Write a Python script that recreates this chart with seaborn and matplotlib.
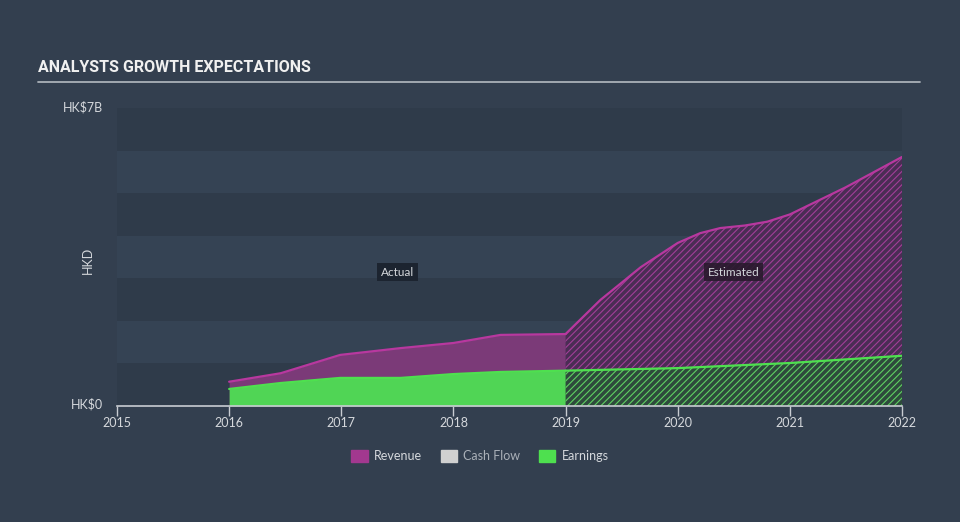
import matplotlib
matplotlib.use("Agg")
import matplotlib.pyplot as plt
import matplotlib.patches as mpatches
import seaborn as sns
import pandas as pd

# ---- data (HK$ billions) ----
rev_years_actual = [2016.0, 2016.46, 2016.99, 2017.53, 2018.0, 2018.42, 2019.0]
rev_actual = [0.57, 0.77, 1.20, 1.36, 1.48, 1.67, 1.69]
earn_years_actual = [2016.0, 2016.46, 2016.99, 2017.53, 2018.0, 2018.42, 2019.0]
earn_actual = [0.40, 0.54, 0.66, 0.66, 0.75, 0.80, 0.83]

rev_years_est = [2019.0, 2019.31, 2019.67, 2020.0, 2020.2, 2020.38, 2020.6, 2020.8, 2021.0, 2021.5, 2022.0]
rev_est = [1.69, 2.49, 3.26, 3.83, 4.06, 4.18, 4.24, 4.33, 4.50, 5.14, 5.85]
earn_years_est = [2019.0, 2020.0, 2021.0, 2022.0]
earn_est = [0.83, 0.89, 1.01, 1.18]

x_ticks = [2015, 2016, 2017, 2018, 2019, 2020, 2021, 2022]
y_tick_labels = ["HK$0", "HK$7B"]
legend_labels = ["Revenue", "Cash Flow", "Earnings"]

# ---- style ----
BG = "#333f4f"
BAND_DARK = "#2f3b4a"
BAND_LIGHT = "#354354"
REV_LINE = "#b8389f"
REV_FILL = "#7b3a78"
EARN_LINE = "#4ee04f"
EARN_FILL = "#50d555"
TXT = "#d5d8dc"

sns.set_theme(style="dark")
plt.rcParams["font.family"] = ["Lato", "DejaVu Sans"]
plt.rcParams["hatch.linewidth"] = 0.8

fig = plt.figure(figsize=(9.6, 5.22), dpi=100, facecolor=BG)
ax = fig.add_axes([117 / 960, 1 - 406 / 522, (902 - 117) / 960, (406 - 108) / 522])
ax.set_facecolor(BG)
ax.set_xlim(2015, 2022)
ax.set_ylim(0, 7)

# bands
for i in range(7):
    ax.axhspan(i, i + 1, color=BAND_DARK if i % 2 == 0 else BAND_LIGHT, lw=0, zorder=0)

df_ra = pd.DataFrame({"year": rev_years_actual, "v": rev_actual})
df_ea = pd.DataFrame({"year": earn_years_actual, "v": earn_actual})
df_re = pd.DataFrame({"year": rev_years_est, "v": rev_est})
df_ee = pd.DataFrame({"year": earn_years_est, "v": earn_est})

# actual fills
ax.fill_between(df_ra["year"], 0, df_ra["v"], color=REV_FILL, lw=0, zorder=2)
ax.fill_between(df_ea["year"], 0, df_ea["v"], color=EARN_FILL, lw=0, zorder=3)
# estimated hatched fills
ax.fill_between(df_re["year"], 0, df_re["v"], facecolor="#4a2d54", edgecolor="#a23e98",
                hatch="/////", lw=0, zorder=2)
ax.fill_between(df_ee["year"], 0, df_ee["v"], facecolor="#2e4a3c", edgecolor="#5fd062",
                hatch="/////", lw=0, zorder=3)

sns.lineplot(data=df_ra, x="year", y="v", color=REV_LINE, lw=1.6, ax=ax, zorder=4)
sns.lineplot(data=df_re, x="year", y="v", color=REV_LINE, lw=1.6, ax=ax, zorder=4)
sns.lineplot(data=df_ea, x="year", y="v", color=EARN_LINE, lw=1.6, ax=ax, zorder=5)
sns.lineplot(data=df_ee, x="year", y="v", color=EARN_LINE, lw=1.6, ax=ax, zorder=5)

ax.set_xlim(2015, 2022)
ax.set_ylim(0, 7)
ax.grid(False)
for s in ["top", "right", "left"]:
    ax.spines[s].set_visible(False)
ax.spines["bottom"].set_color("#c8ccd2")
ax.spines["bottom"].set_linewidth(1.2)
ax.spines["bottom"].set_zorder(6)
ax.set_xticks(x_ticks)
ax.set_xticklabels([str(t) for t in x_ticks], color=TXT, fontsize=9)
ax.tick_params(axis="x", length=7, width=1, color="#c8ccd2", pad=1, bottom=True)
ax.set_yticks([])
ax.set_xlabel("")
ax.set_ylabel("")

# y labels
fig.text(103 / 960, 1 - 107 / 522, y_tick_labels[1], ha="right", va="center", color=TXT, fontsize=9)
fig.text(103 / 960, 1 - 404 / 522, y_tick_labels[0], ha="right", va="center", color=TXT, fontsize=9)
fig.text(88 / 960, 1 - 260 / 522, "HKD", ha="center", va="center", rotation=90, color=TXT, fontsize=9)

# Actual / Estimated labels
ax.text(2017.5, 3.14, "Actual", ha="center", va="center", color=TXT, fontsize=8.5, zorder=7,
        bbox=dict(boxstyle="square,pad=0.3", fc="#1c2430", ec="none"))
ax.text(2020.5, 3.14, "Estimated", ha="center", va="center", color=TXT, fontsize=8.5, zorder=7,
        bbox=dict(boxstyle="square,pad=0.3", fc="#2a1a2e", ec="none", alpha=0.9))

# title
fig.text(38 / 960, 1 - 68 / 522, "ANALYSTS GROWTH EXPECTATIONS", ha="left", va="center",
         color="#f0f0f0", fontsize=11.5, fontweight="bold", family=["Roboto", "DejaVu Sans"])
fig.add_artist(plt.Line2D([38 / 960, 920 / 960], [1 - 82 / 522, 1 - 82 / 522],
                          color="#aab0b8", lw=1.3))

# legend
handles = [mpatches.Patch(color="#a2388f"), mpatches.Patch(color="#d0d0d0"),
           mpatches.Patch(color="#4ee04f")]
leg = fig.legend(handles, legend_labels, loc="center", bbox_to_anchor=(0.5, 1 - 456 / 522),
                 ncol=3, frameon=False, fontsize=9, handlelength=1.3, handleheight=1.1,
                 columnspacing=1.5, handletextpad=0.5)
for t, c in zip(leg.get_texts(), [TXT, "#aab0b8", TXT]):
    t.set_color(c)

fig.savefig("out.png", dpi=100, facecolor=BG)
